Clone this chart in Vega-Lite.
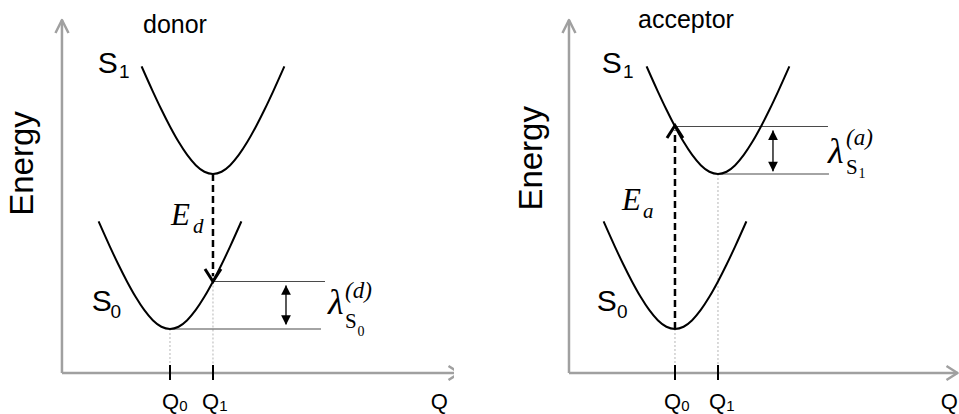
{
  "$schema": "https://vega.github.io/schema/vega-lite/v6.json",
  "padding": 0,
  "config": {"view": {"stroke": null}},
  "data": {"values": [
    {"p":"donor","k":"axis","id":"ya","o":1,"Q":-2.512,"E":-1.419},
    {"p":"donor","k":"axis","id":"ya","o":2,"Q":-2.512,"E":9.968},
    {"p":"donor","k":"axis","id":"yh","o":1,"Q":-2.663,"E":9.548},
    {"p":"donor","k":"axis","id":"yh","o":2,"Q":-2.512,"E":9.968},
    {"p":"donor","k":"axis","id":"yh","o":3,"Q":-2.36,"E":9.548},
    {"p":"donor","k":"axis","id":"xa","o":1,"Q":-2.512,"E":-1.419},
    {"p":"donor","k":"axis","id":"xa","o":2,"Q":6.733,"E":-1.419},
    {"p":"donor","k":"axis","id":"xh","o":1,"Q":6.477,"E":-1.194},
    {"p":"donor","k":"axis","id":"xh","o":2,"Q":6.733,"E":-1.419},
    {"p":"donor","k":"axis","id":"xh","o":3,"Q":6.477,"E":-1.645},
    {"p":"acceptor","k":"axis","id":"ya","o":1,"Q":-2.465,"E":-1.419},
    {"p":"acceptor","k":"axis","id":"ya","o":2,"Q":-2.465,"E":9.968},
    {"p":"acceptor","k":"axis","id":"yh","o":1,"Q":-2.616,"E":9.548},
    {"p":"acceptor","k":"axis","id":"yh","o":2,"Q":-2.465,"E":9.968},
    {"p":"acceptor","k":"axis","id":"yh","o":3,"Q":-2.314,"E":9.548},
    {"p":"acceptor","k":"axis","id":"xa","o":1,"Q":-2.465,"E":-1.419},
    {"p":"acceptor","k":"axis","id":"xa","o":2,"Q":6.57,"E":-1.419},
    {"p":"acceptor","k":"axis","id":"xh","o":1,"Q":6.314,"E":-1.194},
    {"p":"acceptor","k":"axis","id":"xh","o":2,"Q":6.57,"E":-1.419},
    {"p":"acceptor","k":"axis","id":"xh","o":3,"Q":6.314,"E":-1.645},

    {"p":"donor","k":"curve","id":"s0","o":1,"Q":-1.66,"E":3.47},
    {"p":"donor","k":"curve","id":"s0","o":2,"Q":-1.4,"E":2.666},
    {"p":"donor","k":"curve","id":"s0","o":3,"Q":-1.2,"E":2.079},
    {"p":"donor","k":"curve","id":"s0","o":4,"Q":-1.0,"E":1.533},
    {"p":"donor","k":"curve","id":"s0","o":5,"Q":-0.8,"E":1.038},
    {"p":"donor","k":"curve","id":"s0","o":6,"Q":-0.6,"E":0.615},
    {"p":"donor","k":"curve","id":"s0","o":7,"Q":-0.4,"E":0.285},
    {"p":"donor","k":"curve","id":"s0","o":8,"Q":-0.2,"E":0.073},
    {"p":"donor","k":"curve","id":"s0","o":9,"Q":0,"E":0},
    {"p":"donor","k":"curve","id":"s0","o":10,"Q":0.2,"E":0.073},
    {"p":"donor","k":"curve","id":"s0","o":11,"Q":0.4,"E":0.285},
    {"p":"donor","k":"curve","id":"s0","o":12,"Q":0.6,"E":0.615},
    {"p":"donor","k":"curve","id":"s0","o":13,"Q":0.8,"E":1.038},
    {"p":"donor","k":"curve","id":"s0","o":14,"Q":1.0,"E":1.533},
    {"p":"donor","k":"curve","id":"s0","o":15,"Q":1.2,"E":2.079},
    {"p":"donor","k":"curve","id":"s0","o":16,"Q":1.4,"E":2.666},
    {"p":"donor","k":"curve","id":"s0","o":17,"Q":1.66,"E":3.47},
    {"p":"donor","k":"curve","id":"s1","o":1,"Q":-0.66,"E":8.47},
    {"p":"donor","k":"curve","id":"s1","o":2,"Q":-0.4,"E":7.666},
    {"p":"donor","k":"curve","id":"s1","o":3,"Q":-0.2,"E":7.079},
    {"p":"donor","k":"curve","id":"s1","o":4,"Q":0,"E":6.533},
    {"p":"donor","k":"curve","id":"s1","o":5,"Q":0.2,"E":6.038},
    {"p":"donor","k":"curve","id":"s1","o":6,"Q":0.4,"E":5.615},
    {"p":"donor","k":"curve","id":"s1","o":7,"Q":0.6,"E":5.285},
    {"p":"donor","k":"curve","id":"s1","o":8,"Q":0.8,"E":5.073},
    {"p":"donor","k":"curve","id":"s1","o":9,"Q":1,"E":5},
    {"p":"donor","k":"curve","id":"s1","o":10,"Q":1.2,"E":5.073},
    {"p":"donor","k":"curve","id":"s1","o":11,"Q":1.4,"E":5.285},
    {"p":"donor","k":"curve","id":"s1","o":12,"Q":1.6,"E":5.615},
    {"p":"donor","k":"curve","id":"s1","o":13,"Q":1.8,"E":6.038},
    {"p":"donor","k":"curve","id":"s1","o":14,"Q":2.0,"E":6.533},
    {"p":"donor","k":"curve","id":"s1","o":15,"Q":2.2,"E":7.079},
    {"p":"donor","k":"curve","id":"s1","o":16,"Q":2.4,"E":7.666},
    {"p":"donor","k":"curve","id":"s1","o":17,"Q":2.66,"E":8.47},
    {"p":"acceptor","k":"curve","id":"s0","o":1,"Q":-1.66,"E":3.47},
    {"p":"acceptor","k":"curve","id":"s0","o":2,"Q":-1.4,"E":2.666},
    {"p":"acceptor","k":"curve","id":"s0","o":3,"Q":-1.2,"E":2.079},
    {"p":"acceptor","k":"curve","id":"s0","o":4,"Q":-1.0,"E":1.533},
    {"p":"acceptor","k":"curve","id":"s0","o":5,"Q":-0.8,"E":1.038},
    {"p":"acceptor","k":"curve","id":"s0","o":6,"Q":-0.6,"E":0.615},
    {"p":"acceptor","k":"curve","id":"s0","o":7,"Q":-0.4,"E":0.285},
    {"p":"acceptor","k":"curve","id":"s0","o":8,"Q":-0.2,"E":0.073},
    {"p":"acceptor","k":"curve","id":"s0","o":9,"Q":0,"E":0},
    {"p":"acceptor","k":"curve","id":"s0","o":10,"Q":0.2,"E":0.073},
    {"p":"acceptor","k":"curve","id":"s0","o":11,"Q":0.4,"E":0.285},
    {"p":"acceptor","k":"curve","id":"s0","o":12,"Q":0.6,"E":0.615},
    {"p":"acceptor","k":"curve","id":"s0","o":13,"Q":0.8,"E":1.038},
    {"p":"acceptor","k":"curve","id":"s0","o":14,"Q":1.0,"E":1.533},
    {"p":"acceptor","k":"curve","id":"s0","o":15,"Q":1.2,"E":2.079},
    {"p":"acceptor","k":"curve","id":"s0","o":16,"Q":1.4,"E":2.666},
    {"p":"acceptor","k":"curve","id":"s0","o":17,"Q":1.66,"E":3.47},
    {"p":"acceptor","k":"curve","id":"s1","o":1,"Q":-0.66,"E":8.47},
    {"p":"acceptor","k":"curve","id":"s1","o":2,"Q":-0.4,"E":7.666},
    {"p":"acceptor","k":"curve","id":"s1","o":3,"Q":-0.2,"E":7.079},
    {"p":"acceptor","k":"curve","id":"s1","o":4,"Q":0,"E":6.533},
    {"p":"acceptor","k":"curve","id":"s1","o":5,"Q":0.2,"E":6.038},
    {"p":"acceptor","k":"curve","id":"s1","o":6,"Q":0.4,"E":5.615},
    {"p":"acceptor","k":"curve","id":"s1","o":7,"Q":0.6,"E":5.285},
    {"p":"acceptor","k":"curve","id":"s1","o":8,"Q":0.8,"E":5.073},
    {"p":"acceptor","k":"curve","id":"s1","o":9,"Q":1,"E":5},
    {"p":"acceptor","k":"curve","id":"s1","o":10,"Q":1.2,"E":5.073},
    {"p":"acceptor","k":"curve","id":"s1","o":11,"Q":1.4,"E":5.285},
    {"p":"acceptor","k":"curve","id":"s1","o":12,"Q":1.6,"E":5.615},
    {"p":"acceptor","k":"curve","id":"s1","o":13,"Q":1.8,"E":6.038},
    {"p":"acceptor","k":"curve","id":"s1","o":14,"Q":2.0,"E":6.533},
    {"p":"acceptor","k":"curve","id":"s1","o":15,"Q":2.2,"E":7.079},
    {"p":"acceptor","k":"curve","id":"s1","o":16,"Q":2.4,"E":7.666},
    {"p":"acceptor","k":"curve","id":"s1","o":17,"Q":2.66,"E":8.47},

    {"p":"donor","k":"hl","id":"h1","o":1,"Q":1,"E":1.533},
    {"p":"donor","k":"hl","id":"h1","o":2,"Q":3.605,"E":1.533},
    {"p":"donor","k":"hl","id":"h2","o":1,"Q":0,"E":0},
    {"p":"donor","k":"hl","id":"h2","o":2,"Q":3.512,"E":0},
    {"p":"acceptor","k":"hl","id":"h1","o":1,"Q":0,"E":6.533},
    {"p":"acceptor","k":"hl","id":"h1","o":2,"Q":3.558,"E":6.533},
    {"p":"acceptor","k":"hl","id":"h2","o":1,"Q":1,"E":5},
    {"p":"acceptor","k":"hl","id":"h2","o":2,"Q":3.581,"E":5},

    {"p":"donor","k":"dot","id":"d0","o":1,"Q":0,"E":0},
    {"p":"donor","k":"dot","id":"d0","o":2,"Q":0,"E":-1.161},
    {"p":"donor","k":"dot","id":"d1","o":1,"Q":1,"E":1.533},
    {"p":"donor","k":"dot","id":"d1","o":2,"Q":1,"E":-1.161},
    {"p":"acceptor","k":"dot","id":"d0","o":1,"Q":0,"E":0},
    {"p":"acceptor","k":"dot","id":"d0","o":2,"Q":0,"E":-1.161},
    {"p":"acceptor","k":"dot","id":"d1","o":1,"Q":1,"E":5},
    {"p":"acceptor","k":"dot","id":"d1","o":2,"Q":1,"E":-1.161},

    {"p":"donor","k":"tick","id":"t0","o":1,"Q":0,"E":-1.161},
    {"p":"donor","k":"tick","id":"t0","o":2,"Q":0,"E":-1.645},
    {"p":"donor","k":"tick","id":"t1","o":1,"Q":1,"E":-1.161},
    {"p":"donor","k":"tick","id":"t1","o":2,"Q":1,"E":-1.645},
    {"p":"acceptor","k":"tick","id":"t0","o":1,"Q":0,"E":-1.161},
    {"p":"acceptor","k":"tick","id":"t0","o":2,"Q":0,"E":-1.645},
    {"p":"acceptor","k":"tick","id":"t1","o":1,"Q":1,"E":-1.161},
    {"p":"acceptor","k":"tick","id":"t1","o":2,"Q":1,"E":-1.645},

    {"p":"donor","k":"dash","id":"a","o":1,"Q":1,"E":5},
    {"p":"donor","k":"dash","id":"a","o":2,"Q":1,"E":1.7},
    {"p":"acceptor","k":"dash","id":"a","o":1,"Q":0,"E":0},
    {"p":"acceptor","k":"dash","id":"a","o":2,"Q":0,"E":6.4},

    {"p":"donor","k":"head","id":"v","o":1,"Q":0.814,"E":1.935},
    {"p":"donor","k":"head","id":"v","o":2,"Q":1,"E":1.533},
    {"p":"donor","k":"head","id":"v","o":3,"Q":1.186,"E":1.935},
    {"p":"acceptor","k":"head","id":"v","o":1,"Q":-0.186,"E":6.161},
    {"p":"acceptor","k":"head","id":"v","o":2,"Q":0,"E":6.565},
    {"p":"acceptor","k":"head","id":"v","o":3,"Q":0.186,"E":6.161},

    {"p":"donor","k":"dbl","id":"b","o":1,"Q":2.698,"E":0.15},
    {"p":"donor","k":"dbl","id":"b","o":2,"Q":2.698,"E":1.4},
    {"p":"acceptor","k":"dbl","id":"b","o":1,"Q":2.279,"E":5.09},
    {"p":"acceptor","k":"dbl","id":"b","o":2,"Q":2.279,"E":6.4},

    {"p":"donor","k":"up","Q":2.698,"E":1.258},
    {"p":"donor","k":"dn","Q":2.698,"E":0.29},
    {"p":"acceptor","k":"up","Q":2.279,"E":6.258},
    {"p":"acceptor","k":"dn","Q":2.279,"E":5.235},

    {"p":"donor","k":"title","t":"donor","Q":0.116,"E":9.548},
    {"p":"acceptor","k":"title","t":"acceptor","Q":0.256,"E":9.7},
    {"p":"donor","k":"energy","t":"Energy","Q":-3.174,"E":5.339},
    {"p":"acceptor","k":"energy","t":"Energy","Q":-3.1,"E":5.506},
    {"p":"donor","k":"st","t":"S","Q":-1.679,"E":8.258},
    {"p":"donor","k":"st","t":"S","Q":-1.819,"E":0.565},
    {"p":"acceptor","k":"st","t":"S","Q":-1.702,"E":8.258},
    {"p":"acceptor","k":"st","t":"S","Q":-1.819,"E":0.565},
    {"p":"donor","k":"stsub","t":"1","Q":-1.186,"E":8.097},
    {"p":"donor","k":"stsub","t":"0","Q":-1.386,"E":0.355},
    {"p":"acceptor","k":"stsub","t":"1","Q":-1.209,"E":8.097},
    {"p":"acceptor","k":"stsub","t":"0","Q":-1.349,"E":0.355},
    {"p":"donor","k":"q","t":"Q","Q":-0.186,"E":-2.581},
    {"p":"donor","k":"q","t":"Q","Q":0.744,"E":-2.581},
    {"p":"donor","k":"q","t":"Q","Q":6.063,"E":-2.581},
    {"p":"acceptor","k":"q","t":"Q","Q":-0.256,"E":-2.581},
    {"p":"acceptor","k":"q","t":"Q","Q":0.791,"E":-2.581},
    {"p":"acceptor","k":"q","t":"Q","Q":6.179,"E":-2.581},
    {"p":"donor","k":"qsub","t":"0","Q":0.215,"E":-2.645},
    {"p":"donor","k":"qsub","t":"1","Q":1.145,"E":-2.645},
    {"p":"acceptor","k":"qsub","t":"0","Q":0.145,"E":-2.645},
    {"p":"acceptor","k":"qsub","t":"1","Q":1.19,"E":-2.645},
    {"p":"donor","k":"eit","t":"E","Q":0.023,"E":3.355},
    {"p":"acceptor","k":"eit","t":"E","Q":-1.233,"E":3.839},
    {"p":"donor","k":"esub","t":"d","Q":0.535,"E":3.097},
    {"p":"acceptor","k":"esub","t":"a","Q":-0.744,"E":3.581},
    {"p":"donor","k":"lam","t":"λ","Q":3.674,"E":0.484},
    {"p":"acceptor","k":"lam","t":"λ","Q":3.558,"E":5.355},
    {"p":"donor","k":"lsup","t":"(d)","Q":4.07,"E":1.0},
    {"p":"acceptor","k":"lsup","t":"(a)","Q":3.977,"E":5.935},
    {"p":"donor","k":"lsub","t":"S","Q":4.07,"E":0.032},
    {"p":"acceptor","k":"lsub","t":"S","Q":3.977,"E":5.0},
    {"p":"donor","k":"lsub2","t":"0","Q":4.36,"E":-0.226},
    {"p":"acceptor","k":"lsub2","t":"1","Q":4.265,"E":4.871}
  ]},
  "facet": {"column": {"field": "p", "type": "nominal", "sort": ["donor", "acceptor"], "header": null}},
  "spacing": 51,
  "bounds": "flush",
  "spec": {
    "width": 454,
    "height": 414,
    "encoding": {
      "x": {"field": "Q", "type": "quantitative", "scale": {"domain": [-3.953, 6.605], "nice": false, "zero": false}, "axis": null},
      "y": {"field": "E", "type": "quantitative", "scale": {"domain": [-2.742, 10.613], "nice": false, "zero": false}, "axis": null}
    },
    "layer": [
      {"transform": [{"filter": "datum.k === 'dot'"}],
       "mark": {"type": "line", "stroke": "#b5b5b5", "strokeWidth": 1, "strokeDash": [2, 2]},
       "encoding": {"detail": {"field": "id"}, "order": {"field": "o"}}},
      {"transform": [{"filter": "datum.k === 'axis'"}],
       "mark": {"type": "line", "stroke": "#a0a0a0", "strokeWidth": 2.5, "strokeJoin": "round", "clip": true},
       "encoding": {"detail": {"field": "id"}, "order": {"field": "o"}}},
      {"transform": [{"filter": "datum.k === 'hl'"}],
       "mark": {"type": "line", "stroke": "#4a4a4a", "strokeWidth": 1.2},
       "encoding": {"detail": {"field": "id"}, "order": {"field": "o"}}},
      {"transform": [{"filter": "datum.k === 'curve'"}],
       "mark": {"type": "line", "stroke": "#000000", "strokeWidth": 2, "interpolate": "monotone"},
       "encoding": {"detail": {"field": "id"}, "order": {"field": "o"}}},
      {"transform": [{"filter": "datum.k === 'tick'"}],
       "mark": {"type": "line", "stroke": "#000000", "strokeWidth": 2},
       "encoding": {"detail": {"field": "id"}, "order": {"field": "o"}}},
      {"transform": [{"filter": "datum.k === 'dash'"}],
       "mark": {"type": "line", "stroke": "#000000", "strokeWidth": 2.5, "strokeDash": [7, 4]},
       "encoding": {"detail": {"field": "id"}, "order": {"field": "o"}}},
      {"transform": [{"filter": "datum.k === 'head'"}],
       "mark": {"type": "line", "stroke": "#000000", "strokeWidth": 3, "strokeJoin": "miter"},
       "encoding": {"detail": {"field": "id"}, "order": {"field": "o"}}},
      {"transform": [{"filter": "datum.k === 'dbl'"}],
       "mark": {"type": "line", "stroke": "#000000", "strokeWidth": 1.3},
       "encoding": {"detail": {"field": "id"}, "order": {"field": "o"}}},
      {"transform": [{"filter": "datum.k === 'up'"}],
       "mark": {"type": "point", "shape": "M0,-1L1,1L-1,1Z", "size": 95, "filled": true, "color": "#000000", "opacity": 1}},
      {"transform": [{"filter": "datum.k === 'dn'"}],
       "mark": {"type": "point", "shape": "M0,1L1,-1L-1,-1Z", "size": 95, "filled": true, "color": "#000000", "opacity": 1}},
      {"transform": [{"filter": "datum.k === 'title'"}],
       "mark": {"type": "text", "font": "Liberation Sans", "fontSize": 25, "align": "center", "baseline": "alphabetic", "color": "#000000"},
       "encoding": {"text": {"field": "t"}}},
      {"transform": [{"filter": "datum.k === 'energy'"}],
       "mark": {"type": "text", "font": "Liberation Sans", "fontSize": 33, "angle": 270, "align": "center", "baseline": "alphabetic", "color": "#000000"},
       "encoding": {"text": {"field": "t"}}},
      {"transform": [{"filter": "datum.k === 'st'"}],
       "mark": {"type": "text", "font": "Liberation Sans", "fontSize": 30, "align": "left", "baseline": "alphabetic", "color": "#000000"},
       "encoding": {"text": {"field": "t"}}},
      {"transform": [{"filter": "datum.k === 'stsub'"}],
       "mark": {"type": "text", "font": "Liberation Sans", "fontSize": 19, "align": "left", "baseline": "alphabetic", "color": "#000000"},
       "encoding": {"text": {"field": "t"}}},
      {"transform": [{"filter": "datum.k === 'q'"}],
       "mark": {"type": "text", "font": "Liberation Sans", "fontSize": 22, "align": "left", "baseline": "alphabetic", "color": "#000000", "clip": true},
       "encoding": {"text": {"field": "t"}}},
      {"transform": [{"filter": "datum.k === 'qsub'"}],
       "mark": {"type": "text", "font": "Liberation Sans", "fontSize": 15, "align": "left", "baseline": "alphabetic", "color": "#000000", "clip": true},
       "encoding": {"text": {"field": "t"}}},
      {"transform": [{"filter": "datum.k === 'eit'"}],
       "mark": {"type": "text", "font": "Liberation Serif", "fontStyle": "italic", "fontSize": 31, "align": "left", "baseline": "alphabetic", "color": "#000000"},
       "encoding": {"text": {"field": "t"}}},
      {"transform": [{"filter": "datum.k === 'esub'"}],
       "mark": {"type": "text", "font": "Liberation Serif", "fontStyle": "italic", "fontSize": 21, "align": "left", "baseline": "alphabetic", "color": "#000000"},
       "encoding": {"text": {"field": "t"}}},
      {"transform": [{"filter": "datum.k === 'lam'"}],
       "mark": {"type": "text", "font": "Liberation Serif", "fontStyle": "italic", "fontSize": 36, "align": "left", "baseline": "alphabetic", "color": "#000000"},
       "encoding": {"text": {"field": "t"}}},
      {"transform": [{"filter": "datum.k === 'lsup'"}],
       "mark": {"type": "text", "font": "Liberation Serif", "fontStyle": "italic", "fontSize": 23, "align": "left", "baseline": "alphabetic", "color": "#000000"},
       "encoding": {"text": {"field": "t"}}},
      {"transform": [{"filter": "datum.k === 'lsub'"}],
       "mark": {"type": "text", "font": "Liberation Serif", "fontSize": 21, "align": "left", "baseline": "alphabetic", "color": "#000000"},
       "encoding": {"text": {"field": "t"}}},
      {"transform": [{"filter": "datum.k === 'lsub2'"}],
       "mark": {"type": "text", "font": "Liberation Serif", "fontSize": 14, "align": "left", "baseline": "alphabetic", "color": "#000000"},
       "encoding": {"text": {"field": "t"}}}
    ]
  }
}
